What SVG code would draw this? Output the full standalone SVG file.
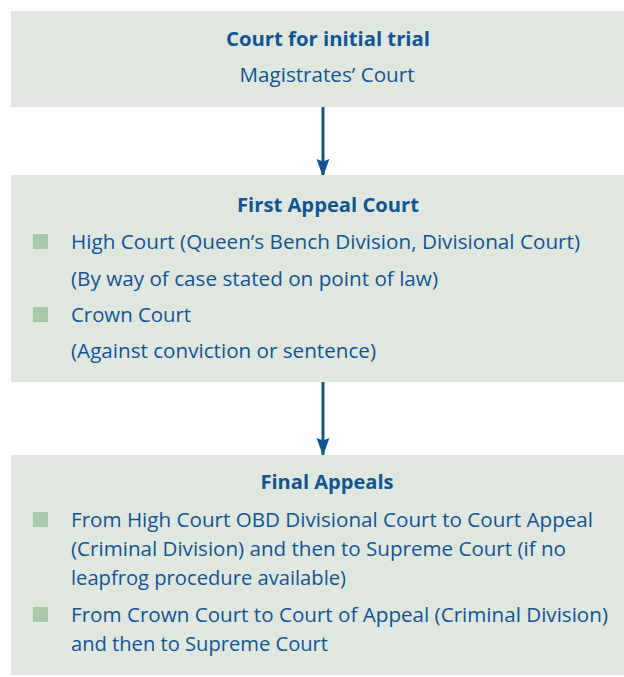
<svg xmlns="http://www.w3.org/2000/svg" width="624" height="677" viewBox="0 0 624 677">
<defs>
<style>
.box{fill:#dfe7df}
.t{font-family:"Open Sans","Noto Sans","Liberation Sans",sans-serif;font-size:20px;fill:#0f5596}
.b{font-weight:bold}
.c{text-anchor:middle}
.bul{fill:#a8c8aa}
.con{stroke:#0f5596;stroke-width:3;fill:none}
</style>
<marker id="ah" viewBox="0 0 14 10" refX="14" refY="5" markerWidth="6" markerHeight="4.4" orient="auto" markerUnits="strokeWidth">
<path d="M0,0 L14,5 L0,10 L2,5 z" fill="#0f5596"/>
</marker>
</defs>
<g id="connectors">
<line class="con" x1="323" y1="105" x2="323" y2="177" marker-end="url(#ah)"/>
<line class="con" x1="323" y1="380" x2="323" y2="456" marker-end="url(#ah)"/>
</g>
<g id="node-initial">
<rect class="box" x="11" y="11" width="613" height="96"/>
<text class="t b c" x="328" y="46" textLength="204" lengthAdjust="spacingAndGlyphs">Court for initial trial</text>
<text class="t c" x="327" y="82" textLength="175" lengthAdjust="spacingAndGlyphs">Magistrates’ Court</text>
</g>
<g id="node-first-appeal">
<rect class="box" x="11" y="175" width="613" height="207"/>
<text class="t b c" x="328" y="212" textLength="182" lengthAdjust="spacingAndGlyphs">First Appeal Court</text>
<rect class="bul" x="33" y="234" width="15" height="15"/>
<text class="t" x="71" y="249" textLength="509" lengthAdjust="spacingAndGlyphs">High Court (Queen’s Bench Division, Divisional Court)</text>
<text class="t" x="71" y="286" textLength="367" lengthAdjust="spacingAndGlyphs">(By way of case stated on point of law)</text>
<rect class="bul" x="33" y="307" width="15" height="15"/>
<text class="t" x="71" y="322" textLength="120" lengthAdjust="spacingAndGlyphs">Crown Court</text>
<text class="t" x="71" y="358" textLength="305" lengthAdjust="spacingAndGlyphs">(Against conviction or sentence)</text>
</g>
<g id="node-final">
<rect class="box" x="11" y="455" width="613" height="220"/>
<text class="t b c" x="327" y="489" textLength="133" lengthAdjust="spacingAndGlyphs">Final Appeals</text>
<rect class="bul" x="33" y="512" width="15" height="15"/>
<text class="t" x="71" y="527" textLength="522" lengthAdjust="spacingAndGlyphs">From High Court OBD Divisional Court to Court Appeal</text>
<text class="t" x="71" y="556" textLength="495" lengthAdjust="spacingAndGlyphs">(Criminal Division) and then to Supreme Court (if no</text>
<text class="t" x="71" y="585" textLength="275" lengthAdjust="spacingAndGlyphs">leapfrog procedure available)</text>
<rect class="bul" x="33" y="607" width="15" height="15"/>
<text class="t" x="71" y="622" textLength="537" lengthAdjust="spacingAndGlyphs">From Crown Court to Court of Appeal (Criminal Division)</text>
<text class="t" x="71" y="651" textLength="257" lengthAdjust="spacingAndGlyphs">and then to Supreme Court</text>
</g>
</svg>
